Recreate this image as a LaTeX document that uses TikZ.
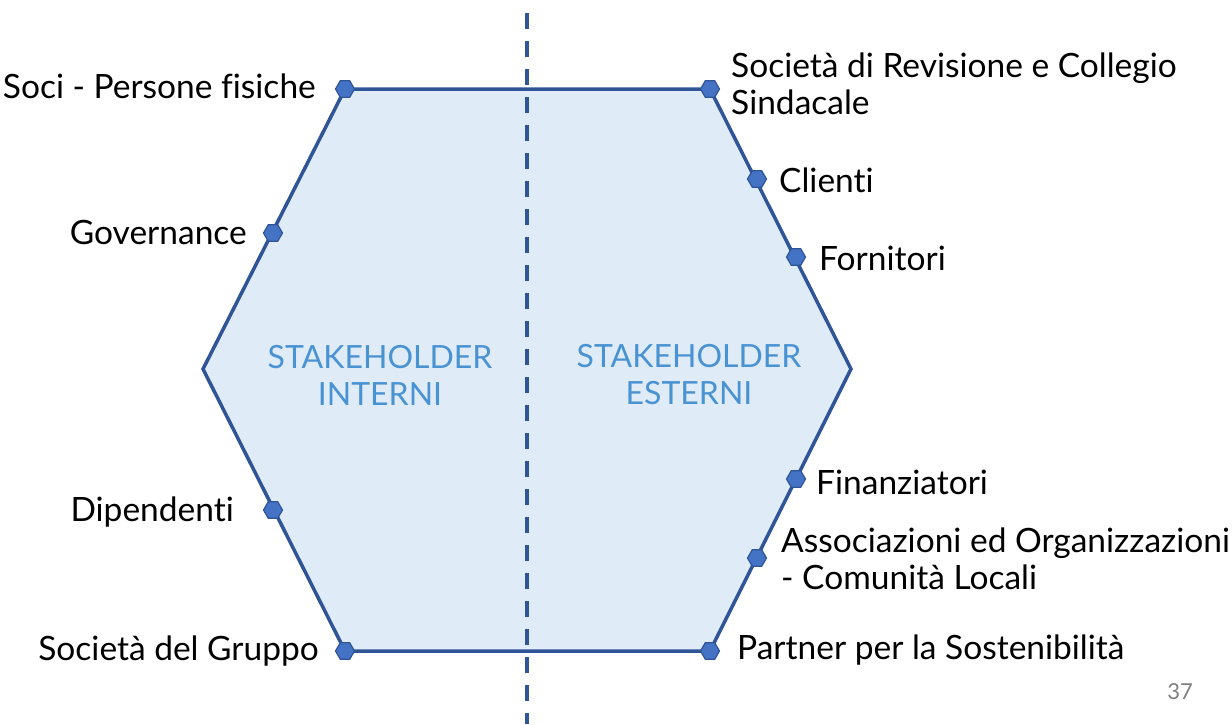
\documentclass[tikz,border=0pt]{standalone}
\usepackage{fontspec}
\setmainfont{Lato}[Ligatures={NoCommon}]
\usetikzlibrary{shapes.geometric}
\definecolor{hexline}{HTML}{2F5597}
\definecolor{hexfill}{HTML}{DFEBF7}
\definecolor{mkfill}{HTML}{4472C4}
\definecolor{sttext}{HTML}{4A93D2}
\definecolor{pgnum}{HTML}{7F7F7F}
\tikzset{
  marker/.style={regular polygon, regular polygon sides=6, minimum size=19pt, inner sep=0pt, fill=mkfill, draw=hexline, line width=1.2pt},
  lbl/.style={font=\fontsize{33.5}{37}\selectfont, text=black, inner sep=0pt, align=left},
  sth/.style={font=\fontsize{32}{37}\selectfont, text=sttext, inner sep=0pt, align=center},
}
\begin{document}
\begin{tikzpicture}[x=1pt,y=-1pt]
\useasboundingbox (0,0) rectangle (1232,724);
\coordinate (tl) at (345,89);
\coordinate (tr) at (710,89);
\coordinate (r) at (851,369);
\coordinate (br) at (710,651);
\coordinate (bl) at (345,651);
\coordinate (l) at (203,369);
\draw[hexline, fill=hexfill, line width=3.5pt, line join=miter] (tl) -- (tr) -- (r) -- (br) -- (bl) -- (l) -- cycle;
\coordinate (dtop) at (527,13);
\coordinate (dbot) at (527,724);
\draw[hexline, line width=4pt, dash pattern=on 16pt off 12pt] (dtop) -- (dbot);
\node[sth] (sti) at (380,375) {STAKEHOLDER\\INTERNI};
\node[sth] (ste) at (689,375) {STAKEHOLDER\\ESTERNI};
% markers
\node[marker] (m1) at (345,89) {};
\node[marker] (m2) at (273,233) {};
\node[marker] (m3) at (273,510) {};
\node[marker] (m4) at (345,651) {};
\node[marker] (m5) at (710,89) {};
\node[marker] (m6) at (757,179) {};
\node[marker] (m7) at (796,257) {};
\node[marker] (m8) at (796,479) {};
\node[marker] (m9) at (757,558) {};
\node[marker] (m10) at (710,651) {};
% labels
\node[lbl, anchor=east] (t1) at (316,86) {Soci - Persone fisiche};
\node[lbl, anchor=east] (t2) at (247,232) {Governance};
\node[lbl, anchor=east] (t3) at (234,512) {Dipendenti};
\node[lbl, anchor=east] (t4) at (319,651) {Società del Gruppo};
\node[lbl, anchor=west] (t5) at (731,84) {Società di Revisione e Collegio\\Sindacale};
\node[lbl, anchor=west] (t6) at (779,180) {Clienti};
\node[lbl, anchor=west] (t7) at (819,258) {Fornitori};
\node[lbl, anchor=west] (t8) at (816,482) {Finanziatori};
\node[lbl, anchor=west] (t9) at (781,559) {Associazioni ed Organizzazioni\\- Comunità Locali};
\node[lbl, anchor=west] (t10) at (737,650) {Partner per la Sostenibilità};
\node[font=\fontsize{22}{24}\selectfont, text=pgnum, inner sep=0pt] (pg) at (1180,692) {37};
\end{tikzpicture}
\end{document}
